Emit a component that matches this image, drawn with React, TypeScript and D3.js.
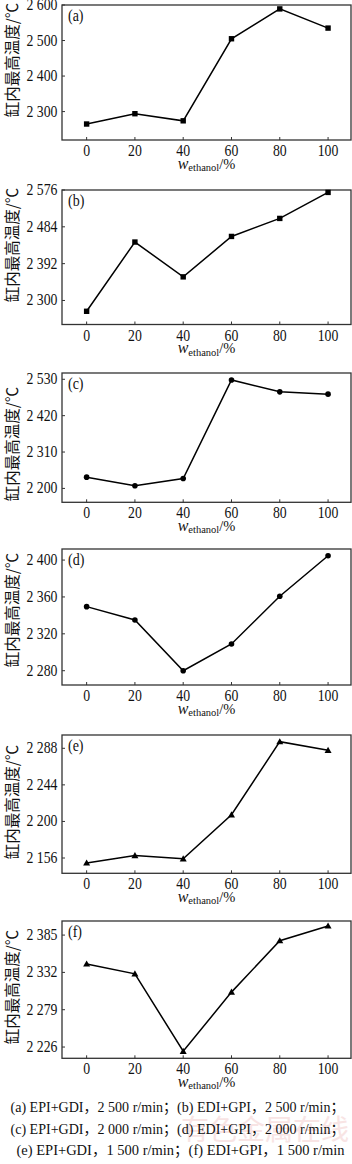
import React from "react";
import * as d3 from "d3";

const xValues = [0, 20, 40, 60, 80, 100];
const xTicks = [0, 20, 40, 60, 80, 100];

const seriesA = [2265, 2294, 2274, 2505, 2589, 2535];
const seriesB = [2273, 2446, 2359, 2460, 2505, 2570];
const seriesC = [2234, 2208, 2230, 2528, 2492, 2485];
const seriesD = [2349.5, 2335, 2280, 2309, 2360.7, 2404.7];
const seriesE = [2150, 2159, 2155, 2208, 2296, 2285.6];
const seriesF = [2344, 2330, 2220, 2304, 2377, 2398];

const ticksA = [2300, 2400, 2500, 2600];
const ticksB = [2300, 2392, 2484, 2576];
const ticksC = [2200, 2310, 2420, 2530];
const ticksD = [2280, 2320, 2360, 2400];
const ticksE = [2156, 2200, 2244, 2288];
const ticksF = [2226, 2279, 2332, 2385];

const panelLabels = ["(a)", "(b)", "(c)", "(d)", "(e)", "(f)"];
const yTitle = "缸内最高温度/℃";
const captionLines = [
  "(a) EPI+GDI，2 500 r/min；(b) EDI+GPI，2 500 r/min；",
  "(c) EPI+GDI，2 000 r/min；(d) EDI+GPI，2 000 r/min；",
  "(e) EPI+GDI，1 500 r/min；(f) EDI+GPI，1 500 r/min",
];
const watermark = "有色金属在线";

type Panel = {
  data: number[];
  ticks: number[];
  domain: [number, number];
  top: number;
  bottom: number;
  marker: "square" | "circle" | "triangle";
  titleY: number;
};

const panels: Panel[] = [
  { data: seriesA, ticks: ticksA, domain: [2220, 2600], top: 5, bottom: 140, marker: "square", titleY: 60 },
  { data: seriesB, ticks: ticksB, domain: [2240, 2576], top: 190, bottom: 324.5, marker: "square", titleY: 245 },
  { data: seriesC, ticks: ticksC, domain: [2158, 2549], top: 373, bottom: 502.3, marker: "circle", titleY: 444 },
  { data: seriesD, ticks: ticksD, domain: [2264.5, 2412], top: 549, bottom: 685, marker: "circle", titleY: 610 },
  { data: seriesE, ticks: ticksE, domain: [2137.6, 2304], top: 735, bottom: 873.3, marker: "triangle", titleY: 802 },
  { data: seriesF, ticks: ticksF, domain: [2210, 2405], top: 921, bottom: 1058.3, marker: "triangle", titleY: 987 },
];

const LEFT = 62;
const RIGHT = 351;
const serif = "'Liberation Serif', 'Times New Roman', serif";
const cjk = "'Noto Sans CJK SC', sans-serif";
const mixed = "'Liberation Serif', 'Noto Sans CJK SC', serif";

const fmt = (v: number) => `${Math.floor(v / 1000)} ${String(v % 1000).padStart(3, "0")}`;

function Marker({ kind, x, y }: { kind: string; x: number; y: number }) {
  if (kind === "square") return <rect x={x - 2.7} y={y - 2.7} width={5.4} height={5.4} fill="#000" />;
  if (kind === "circle") return <circle cx={x} cy={y} r={2.8} fill="#000" />;
  const s = 3.5;
  return <path d={`M${x},${y - s}L${x + s},${y + s * 0.75}L${x - s},${y + s * 0.75}Z`} fill="#000" />;
}

function Tall({ x, y, anchor, size, children, style }: any) {
  return (
    <text
      transform={`translate(${x},${y}) scale(1,1.18)`}
      textAnchor={anchor}
      fontFamily={serif}
      fontSize={size}
      fontStyle={style}
      fill="#111"
    >
      {children}
    </text>
  );
}

function PanelView({ p, idx }: { p: Panel; idx: number }) {
  const x = d3.scaleLinear().domain([-10.2, 109.5]).range([LEFT, RIGHT]);
  const y = d3.scaleLinear().domain(p.domain).range([p.bottom, p.top]);
  const line = d3
    .line<number>()
    .x((_, i) => x(xValues[i]))
    .y((d) => y(d));
  return (
    <g>
      <rect x={LEFT} y={p.top} width={RIGHT - LEFT} height={p.bottom - p.top} fill="none" stroke="#333" strokeWidth={1.3} />
      {p.ticks.map((t) => (
        <g key={t}>
          <line x1={LEFT} x2={LEFT + 3} y1={y(t)} y2={y(t)} stroke="#333" strokeWidth={1} />
          <Tall x={57.5} y={y(t) + 5} anchor="end" size={13.8}>
            {fmt(t)}
          </Tall>
        </g>
      ))}
      {xTicks.map((t) => (
        <g key={t}>
          <line x1={x(t)} x2={x(t)} y1={p.bottom} y2={p.bottom - 3} stroke="#333" strokeWidth={1} />
          <Tall x={x(t)} y={p.bottom + 16} anchor="middle" size={13.8}>
            {String(t)}
          </Tall>
        </g>
      ))}
      <text x={(LEFT + RIGHT) / 2} y={p.bottom + 28.5} textAnchor="middle" fontFamily={serif} fontSize={14} fill="#111">
        <tspan fontStyle="italic" fontSize={16}>w</tspan>
        <tspan fontSize={10.5} dy={2.5}>ethanol</tspan>
        <tspan fontSize={14.5} dy={-2.5}>/%</tspan>
      </text>
      <Tall x={68} y={p.top + 15.5} anchor="start" size={14}>
        {panelLabels[idx]}
      </Tall>
      <text
        transform={`translate(13,${p.titleY}) rotate(-90)`}
        textAnchor="middle"
        dy="0.35em"
        fontFamily={cjk}
        fontSize={15.5}
        fill="#111"
      >
        {yTitle}
      </text>
      <path d={line(p.data) || ""} fill="none" stroke="#000" strokeWidth={1.5} />
      {p.data.map((v, i) => (
        <Marker key={i} kind={p.marker} x={x(xValues[i])} y={y(v)} />
      ))}
    </g>
  );
}

export default function App() {
  return (
    <svg
      width={352}
      height={1164}
      style={{ position: "absolute", left: 0, top: 0, background: "#fff" }}
    >
      <rect width={352} height={1164} fill="#fff" />
      <text x={265} y={1140} textAnchor="middle" fontFamily={cjk} fontSize={28} fill="#f8e4e4">
        {watermark}
      </text>
      {panels.map((p, i) => (
        <PanelView key={i} p={p} idx={i} />
      ))}
      {captionLines.map((l, i) => (
        <text
          key={i}
          x={i === 2 ? 180.5 : 177.5}
          y={[1112, 1133.5, 1155][i]}
          textAnchor="middle"
          fontFamily={mixed}
          fontSize={14.5}
          textLength={i === 2 ? 328 : 334}
          lengthAdjust="spacingAndGlyphs"
          fill="#111"
        >
          {l}
        </text>
      ))}
    </svg>
  );
}
